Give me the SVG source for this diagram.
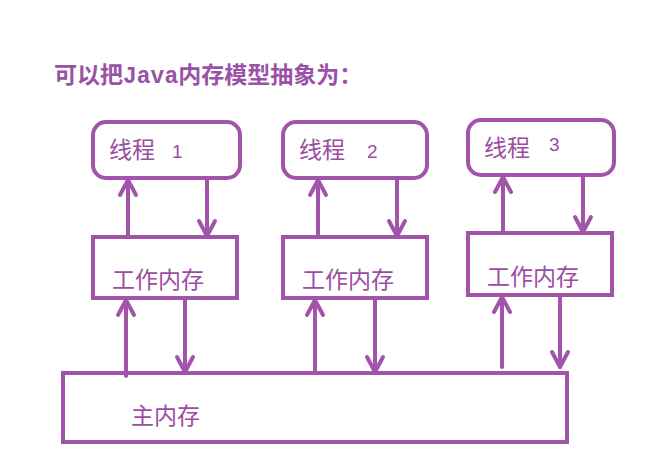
<svg xmlns="http://www.w3.org/2000/svg" width="660" height="472" viewBox="0 0 660 472">
<style>
.box{fill:#ffffff;stroke:#a254aa;stroke-width:4}
.cn{font-family:"Noto Sans CJK SC","Noto Sans",sans-serif;font-size:23px;fill:#9b4ca3}
.num{font-family:"Liberation Sans","Noto Sans",sans-serif;font-size:19px;fill:#9b4ca3}
.title{font-family:"Noto Sans CJK SC","Noto Sans",sans-serif;font-size:23px;font-weight:bold;fill:#9a52a6}
.mono{font-family:"Liberation Mono","DejaVu Sans Mono",monospace;font-weight:bold}
.ln{fill:none;stroke:#a254aa;stroke-width:4;stroke-linecap:round;stroke-linejoin:round}
</style>
<defs>
<marker id="ah" markerUnits="userSpaceOnUse" markerWidth="30" markerHeight="30" refX="0" refY="0" viewBox="-20 -15 30 30" orient="auto" overflow="visible">
<path d="M-15,-8 L0,0 L-15,8" fill="none" stroke="#a254aa" stroke-width="4" stroke-linecap="round" stroke-linejoin="round"/>
</marker>
</defs>
<rect width="660" height="472" fill="#ffffff"/>
<text class="title" x="54" y="83">可以把<tspan class="mono">Java</tspan>内存模型抽象为：</text>

<g id="thread1">
<rect class="box" x="93" y="122" width="147" height="56" rx="13"/>
<text class="cn" x="109" y="158">线程</text><text class="num" x="172" y="158">1</text>
</g>
<g id="thread2">
<rect class="box" x="283" y="122" width="144" height="56" rx="13"/>
<text class="cn" x="299" y="158">线程</text><text class="num" x="367" y="158">2</text>
</g>
<g id="thread3">
<rect class="box" x="468" y="120" width="146" height="55" rx="13"/>
<text class="cn" x="484" y="156">线程</text><text class="num" x="549" y="151">3</text>
</g>
<g id="work1">
<rect class="box" x="93" y="237" width="144" height="61"/>
<text class="cn" x="112" y="288">工作内存</text>
</g>
<g id="work2">
<rect class="box" x="283" y="237" width="144" height="61"/>
<text class="cn" x="302" y="288">工作内存</text>
</g>
<g id="work3">
<rect class="box" x="468" y="233" width="144" height="62"/>
<text class="cn" x="487" y="285">工作内存</text>
</g>
<g id="main">
<rect class="box" x="63" y="373" width="504" height="69"/>
<text class="cn" x="131" y="424">主内存</text>
</g>

<g id="connectors">
<path class="ln" d="M128,236 L128,180" marker-end="url(#ah)"/>
<path class="ln" d="M207,178 L207,236" marker-end="url(#ah)"/>
<path class="ln" d="M318,236 L318,180" marker-end="url(#ah)"/>
<path class="ln" d="M397,178 L397,236" marker-end="url(#ah)"/>
<path class="ln" d="M503,232 L503,177" marker-end="url(#ah)"/>
<path class="ln" d="M583,175 L583,232" marker-end="url(#ah)"/>
<path class="ln" d="M126,376 L126,300" marker-end="url(#ah)"/>
<path class="ln" d="M185,298 L185,372" marker-end="url(#ah)"/>
<path class="ln" d="M315,372 L315,300" marker-end="url(#ah)"/>
<path class="ln" d="M375,298 L375,372" marker-end="url(#ah)"/>
<path class="ln" d="M502,367 L502,297" marker-end="url(#ah)"/>
<path class="ln" d="M560,295 L560,367" marker-end="url(#ah)"/>
</g>
</svg>
